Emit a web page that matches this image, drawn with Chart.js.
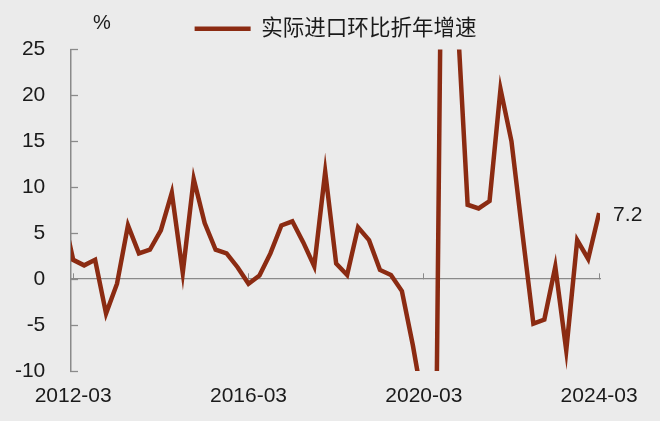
<!DOCTYPE html>
<html>
<head>
<meta charset="utf-8">
<script src="https://cdn.jsdelivr.net/npm/chart.js@4.4.1/dist/chart.umd.min.js"></script>
<style>
  html, body { margin: 0; padding: 0; background: #ebebeb; }
  #wrap { width: 660px; height: 421px; position: relative; }
</style>
</head>
<body>
<div id="wrap"><canvas id="chart"></canvas></div>
<script>
// quarterly labels; the first one sits just left of the axis and gets clipped
const quarters = [
  '2011-12',
  '2012-03', '2012-06', '2012-09', '2012-12',
  '2013-03', '2013-06', '2013-09', '2013-12',
  '2014-03', '2014-06', '2014-09', '2014-12',
  '2015-03', '2015-06', '2015-09', '2015-12',
  '2016-03', '2016-06', '2016-09', '2016-12',
  '2017-03', '2017-06', '2017-09', '2017-12',
  '2018-03', '2018-06', '2018-09', '2018-12',
  '2019-03', '2019-06', '2019-09', '2019-12',
  '2020-03', '2020-06', '2020-09', '2020-12',
  '2021-03', '2021-06', '2021-09', '2021-12',
  '2022-03', '2022-06', '2022-09', '2022-12',
  '2023-03', '2023-06', '2023-09', '2023-12',
  '2024-03'
];

// 实际进口环比折年增速, %
const importGrowth = [
  7.5,
  2.1, 1.5, 2.1, -3.75,
  -0.5, 5.85, 2.8, 3.2,
  5.3, 9.4, 0.7, 10.9,
  6.1, 3.2, 2.8, 1.3,
  -0.5, 0.4, 2.8, 5.85,
  6.3, 4.0, 1.4, 11.7,
  1.7, 0.45, 5.65, 4.25,
  1.0, 0.45, -1.3, -7.2,
  -14, -32.6, 85, 30,
  8.1, 7.7, 8.5, 20.7,
  15.0, 5.0, -4.85, -4.4,
  1.35, -7.75, 4.25, 2.2,
  7.2
];

const xTickLabels = ['2012-03', '2016-03', '2020-03', '2024-03'];
const yTicks = [-10, -5, 0, 5, 10, 15, 20, 25];

const seriesName = '实际进口环比折年增速';
const lineColor = '#8b2b12';
const axisColor = '#8a8a8a';
const textColor = '#1a1a1a';
const font = "'Liberation Sans', Arial, 'Noto Sans CJK SC', sans-serif";

// position of each quarter on the x scale (2012-03 = 0)
const pos = (label) => quarters.indexOf(label) - 1;
const xTickValues = xTickLabels.map(pos);

const points = quarters.map((q, i) => ({ x: pos(q), y: importGrowth[i] }));

const setXTicks = (axis) => {
  axis.ticks = xTickValues.map(v => ({ value: v }));
};

// the "%" unit and the end value note
const notes = {
  id: 'notes',
  afterDatasetsDraw(chart) {
    const { ctx, chartArea } = chart;
    const pts = chart.getDatasetMeta(0).data;
    const last = pts[pts.length - 1];
    ctx.save();
    ctx.fillStyle = textColor;
    ctx.font = '21px ' + font;
    ctx.textBaseline = 'middle';
    ctx.textAlign = 'left';
    ctx.fillText(String(importGrowth[importGrowth.length - 1]), last.x + 14, last.y + 2);
    ctx.font = '20px ' + font;
    ctx.textAlign = 'center';
    ctx.fillText('%', chartArea.left + 31, chartArea.top - 26);
    ctx.restore();
  }
};

new Chart(document.getElementById('chart'), {
  type: 'line',
  data: {
    datasets: [{
      label: seriesName,
      data: points,
      borderColor: lineColor,
      backgroundColor: lineColor,
      borderWidth: 4.5,
      pointRadius: 0,
      tension: 0,
      clip: 0
    }]
  },
  options: {
    responsive: true,
    maintainAspectRatio: false,
    animation: false,
    layout: {
      padding: { top: 8, left: 15, right: 60, bottom: 12 }
    },
    plugins: {
      legend: {
        display: true,
        position: 'top',
        fullSize: false,
        labels: {
          boxWidth: 56,
          boxHeight: 4.5,
          padding: 10,
          color: textColor,
          font: { size: 21.5, family: font },
          generateLabels: (chart) =>
            Chart.defaults.plugins.legend.labels.generateLabels(chart)
              .map(item => ({ ...item, lineWidth: 0 }))
        }
      },
      tooltip: { enabled: false }
    },
    scales: {
      x: {
        type: 'linear',
        min: -0.2,
        max: 48.08,
        afterBuildTicks: setXTicks,
        afterFit: (scale) => { scale.height = 38; },
        grid: { display: false, drawTicks: false },
        border: { display: false },
        ticks: {
          padding: 13,
          maxRotation: 0,
          autoSkip: false,
          color: textColor,
          font: { size: 21, family: font },
          callback: (value) => quarters[value + 1]
        }
      },
      x2: {
        type: 'linear',
        axis: 'x',
        position: { y: 0 },
        min: -0.2,
        max: 48.08,
        afterBuildTicks: setXTicks,
        grid: {
          drawOnChartArea: false,
          drawTicks: true,
          tickLength: -6,
          tickWidth: 1,
          color: axisColor
        },
        border: { color: axisColor, width: 1.3 },
        ticks: { display: false }
      },
      y: {
        min: -10,
        max: 25,
        afterBuildTicks: (axis) => {
          axis.ticks = yTicks.map(v => ({ value: v }));
        },
        afterFit: (scale) => { scale.width = 56; },
        grid: {
          drawOnChartArea: false,
          drawTicks: true,
          tickLength: -7,
          tickWidth: 1.3,
          color: axisColor
        },
        border: { color: axisColor, width: 1.5 },
        ticks: {
          padding: 32.7,
          color: textColor,
          font: { size: 21, family: font }
        }
      }
    }
  },
  plugins: [notes]
});
</script>
</body>
</html>
